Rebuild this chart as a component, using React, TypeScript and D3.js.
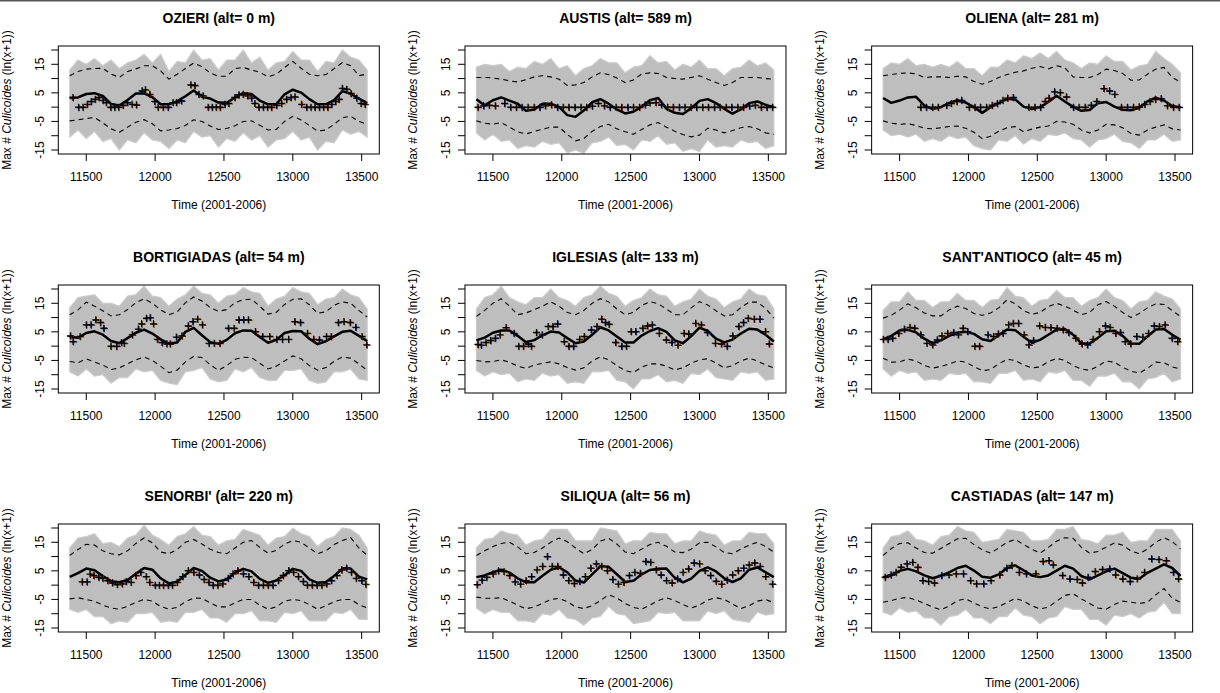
import React from "react";
import * as d3 from "d3";

// ---- time grid (days since 1970) for model curves ----
const TIME = [11380, 11440, 11500, 11560, 11620, 11680, 11740, 11800, 11860, 11920, 11980, 12040, 12100, 12160, 12220, 12280, 12340, 12400, 12460, 12520, 12580, 12640, 12700, 12760, 12820, 12880, 12940, 13000, 13060, 13120, 13180, 13240, 13300, 13360, 13420, 13480, 13540];

const X_TICKS = [11500, 12000, 12500, 13000, 13500];
const Y_TICKS = [-15, -10, -5, 0, 5, 10, 15, 20];
const Y_LABELS = [-15, -5, 5, 15];

// ---- OZIERI ----
const ozieriMean = [3.2,3.4,4.6,4.9,3.9,1.1,0.6,2.5,4.8,4.8,3.5,1.0,1.0,2.0,3.8,5.8,3.6,3.0,1.6,1.5,3.4,4.9,4.6,2.3,1.0,1.0,4.5,6.1,5.1,2.8,1.0,1.0,2.5,5.6,4.7,3.0,1.4];
const ozieriHi = [11.0,12.5,13.3,13.5,13.6,11.6,10.4,12.5,13.4,14.5,14.5,12.7,9.8,11.5,13.5,15.4,14.2,12.0,10.8,10.8,13.5,13.9,13.0,12.2,10.6,11.5,13.9,16.0,13.6,11.5,11.0,11.4,13.5,15.6,14.5,11.0,11.6];
const ozieriLo = [-4.8,-4.4,-4.0,-3.6,-5.5,-7.6,-8.8,-7.0,-5.3,-4.4,-5.8,-8.3,-8.0,-7.5,-6.4,-4.4,-5.0,-6.6,-7.8,-7.5,-6.5,-5.0,-4.8,-6.3,-8.0,-7.8,-5.0,-3.2,-4.5,-6.4,-8.4,-8.0,-6.0,-3.7,-3.2,-5.0,-6.0];
const ozieriBandHi = [13.0,16.5,15.0,17.0,14.5,16.5,13.5,15.5,16.5,18.5,15.5,18.5,12.5,16.0,15.5,20.0,16.5,17.0,13.0,16.5,16.5,20.0,15.5,17.5,13.0,15.5,16.0,19.5,16.5,16.5,12.5,16.0,15.5,20.0,17.5,16.5,13.0];
const ozieriBandLo = [-10.5,-8.0,-11.0,-8.5,-12.0,-11.0,-15.0,-11.5,-12.5,-9.0,-11.5,-12.0,-14.5,-11.5,-12.5,-8.5,-10.5,-10.0,-14.0,-11.0,-12.0,-9.0,-11.5,-10.0,-14.0,-11.5,-11.0,-8.5,-11.5,-10.5,-15.0,-12.0,-12.5,-8.0,-9.5,-8.5,-10.5];
const ozieriObs: [number, number][] = [[11403,3.4],[11444,0],[11476,0],[11507,1.0],[11536,2.0],[11565,2.8],[11592,3.4],[11621,2.4],[11645,1.6],[11677,0],[11706,0],[11735,0],[11767,0.7],[11798,1.6],[11832,1.0],[11864,0.8],[11905,5.7],[11929,6.1],[11961,4.5],[11997,2.0],[12021,0],[12058,0],[12094,0],[12130,1.6],[12155,1.6],[12191,2.2],[12259,7.8],[12288,7.6],[12317,4.5],[12348,4.0],[12385,0],[12414,0],[12443,0],[12472,0],[12506,1.0],[12535,1.3],[12579,3.4],[12608,4.3],[12639,4.5],[12671,4.0],[12700,3.2],[12724,1.3],[12753,0],[12785,0],[12816,0],[12845,0],[12882,0.7],[12918,1.3],[12954,2.8],[12986,3.4],[13015,3.6],[13063,1.0],[13100,0],[13131,0],[13160,0],[13192,0],[13223,0],[13253,0],[13282,1.0],[13311,2.0],[13335,2.8],[13359,6.6],[13391,6.3],[13422,4.8],[13463,3.2],[13495,1.3],[13524,1.0]];

// ---- AUSTIS ----
const austisMean = [2.8,0.6,2.4,3.4,2.3,1.2,-1.3,-0.8,1.2,1.2,0.1,-2.8,-3.4,-1.2,1.7,2.8,1.2,-0.8,-2.2,-1.6,0.2,2.4,3.2,-0.6,-2.0,-2.4,-0.4,2.2,2.8,1.4,-0.6,-2.3,-0.8,1.4,2.0,0.8,0.0];
const austisHi = [10.4,10.4,10.2,9.8,9.2,8.8,9.6,10.6,11.0,10.6,9.8,7.6,7.8,8.6,10.6,12.0,11.4,10.2,8.6,9.5,11.6,12.0,11.8,10.4,10.0,9.8,10.4,11.0,9.8,8.6,7.6,8.6,10.4,10.4,10.4,10.0,9.8];
const austisLo = [-4.8,-5.6,-6.0,-5.4,-7.0,-8.6,-9.4,-8.5,-7.7,-7.0,-7.0,-9.5,-11.8,-11.0,-8.5,-6.8,-6.0,-7.6,-8.6,-9.5,-7.8,-6.2,-5.4,-7.0,-8.4,-9.6,-10.4,-9.8,-7.4,-8.0,-9.0,-8.2,-7.2,-6.8,-7.6,-9.0,-9.5];
const austisBandHi = [14.0,15.0,14.5,15.0,12.5,14.0,13.5,16.0,15.0,17.0,13.5,14.5,11.0,13.5,14.5,17.0,15.5,15.5,12.0,14.0,14.5,18.0,15.5,16.0,13.0,15.0,14.0,16.5,13.5,13.5,11.0,13.5,14.0,16.5,14.5,15.5,13.0];
const austisBandLo = [-9.0,-11.5,-9.5,-12.0,-11.5,-14.5,-13.5,-14.0,-12.0,-13.0,-12.5,-16.0,-15.0,-16.2,-12.5,-12.0,-10.5,-13.5,-13.0,-15.0,-11.5,-12.0,-10.0,-13.0,-12.5,-15.5,-14.5,-15.5,-11.5,-14.0,-13.5,-14.0,-11.5,-12.5,-12.0,-14.5,-13.5];
const austisObs: [number, number][] = [[11391,0],[11432,0.5],[11473,0.7],[11517,0.5],[11585,1.3],[11629,0],[11670,0],[11711,0],[11755,0],[11799,0],[11840,0],[11881,0.5],[11925,0.8],[11969,0],[12010,0],[12051,0],[12095,0],[12139,0],[12180,0],[12221,0.4],[12265,1.3],[12309,0.5],[12350,0],[12394,0],[12435,0],[12479,0],[12520,0],[12564,0],[12605,0.8],[12639,1.5],[12683,1.6],[12724,0.8],[12768,0],[12809,0],[12853,0],[12894,0],[12938,0],[12979,0],[13023,0],[13064,0],[13108,0],[13149,0],[13193,0],[13234,0],[13278,0],[13319,0],[13363,0.4],[13404,0.7],[13448,0],[13489,0],[13530,0]];

// ---- OLIENA ----
const olienaMean = [3.2,1.5,2.3,3.4,3.6,0.5,-0.7,0.0,1.5,2.4,1.6,0.0,-2.0,0.0,1.4,2.9,2.7,0.2,-0.7,0.0,1.8,4.0,2.0,0.1,-1.3,-1.0,1.4,1.8,0.2,-0.9,-1.1,-0.2,2.0,3.3,2.3,0.4,-0.1];
const olienaHi = [11.0,11.4,11.8,12.0,11.6,10.4,10.6,10.6,10.4,10.8,10.6,9.0,8.0,9.0,10.4,11.4,12.2,12.7,13.6,14.2,13.4,14.5,13.8,10.6,10.4,10.4,11.4,13.3,12.8,11.8,9.4,9.5,11.5,13.3,13.9,10.4,8.8];
const olienaLo = [-4.8,-5.6,-6.0,-5.8,-6.4,-7.4,-7.6,-7.2,-6.8,-6.6,-7.4,-8.8,-11.0,-10.2,-8.4,-7.2,-6.8,-8.6,-7.7,-7.0,-6.6,-5.0,-5.2,-6.0,-8.0,-9.0,-8.0,-6.0,-6.2,-7.2,-9.2,-9.8,-8.0,-7.0,-6.2,-7.6,-8.0];
const olienaBandHi = [13.5,15.5,15.0,17.0,14.5,15.0,14.0,15.0,14.0,16.0,13.5,13.5,11.0,14.0,14.0,16.5,15.5,18.0,17.0,19.0,17.0,19.5,16.5,15.5,13.5,15.5,15.0,18.0,16.0,16.0,13.0,14.5,15.0,19.5,17.0,15.0,12.0];
const olienaBandLo = [-8.0,-10.0,-9.5,-10.5,-9.5,-12.0,-11.0,-12.0,-10.0,-11.0,-10.5,-13.5,-14.5,-15.0,-11.5,-12.0,-10.0,-13.0,-11.0,-12.0,-9.5,-10.0,-9.0,-11.0,-11.5,-14.0,-11.5,-11.0,-9.5,-12.0,-12.5,-14.5,-11.5,-11.5,-9.5,-12.0,-11.5];
const olienaObs: [number, number][] = [[11653,0],[11694,0],[11739,0],[11780,0],[11841,0.7],[11875,1.3],[11916,2.0],[11950,2.4],[12005,0],[12046,0],[12087,0],[12131,0],[12172,0.7],[12209,1.3],[12250,2.4],[12284,3.2],[12325,3.4],[12438,0],[12482,0],[12523,0],[12557,2.0],[12584,3.2],[12625,5.4],[12666,5.1],[12711,3.6],[12762,0],[12803,0],[12847,0],[12891,0.7],[12932,2.0],[12983,6.5],[13024,5.7],[13062,4.5],[13110,0],[13154,0],[13198,0],[13239,0.1],[13280,1.0],[13318,2.0],[13358,2.8],[13399,3.0],[13444,0.5],[13488,0],[13529,0]];

// ---- BORTIGIADAS ----
const bortigiadasMean = [3.3,2.9,4.6,5.2,4.0,1.8,1.0,2.8,4.7,5.8,4.4,2.4,0.9,1.3,5.0,6.4,3.8,1.4,0.8,2.2,4.5,5.5,5.4,3.2,1.2,2.2,4.6,5.3,5.2,2.6,0.7,1.7,3.4,5.0,5.4,3.6,1.8];
const bortigiadasHi = [11.0,12.7,15.4,14.0,12.4,10.6,11.0,12.8,15.2,16.6,15.0,12.7,11.0,12.0,15.2,17.2,15.8,13.5,12.2,12.8,15.2,16.3,16.4,14.0,11.2,11.8,14.6,16.4,16.6,14.5,11.5,12.0,14.3,15.5,15.0,12.5,10.2];
const bortigiadasLo = [-5.4,-5.8,-4.4,-5.6,-6.6,-8.2,-7.6,-6.2,-4.8,-3.8,-5.0,-7.0,-9.3,-8.4,-5.5,-3.6,-4.0,-6.5,-8.5,-6.8,-4.6,-3.9,-4.0,-6.0,-8.0,-7.0,-5.2,-3.4,-4.4,-6.8,-8.4,-7.5,-5.3,-3.8,-4.2,-6.2,-8.5];
const bortigiadasBandHi = [13.5,17.0,17.5,18.0,15.0,15.0,14.0,17.5,18.0,21.0,17.5,17.0,14.0,16.5,18.0,21.0,18.5,18.0,15.0,17.5,18.0,20.5,19.0,18.5,14.0,16.5,17.5,20.5,19.0,18.5,14.5,16.5,17.0,20.0,18.0,17.0,13.0];
const bortigiadasBandLo = [-9.0,-10.5,-8.0,-10.5,-10.0,-13.0,-11.0,-11.0,-8.0,-9.0,-8.5,-12.0,-13.0,-13.5,-9.0,-8.5,-7.5,-11.5,-12.5,-12.0,-8.0,-9.0,-7.5,-11.0,-12.0,-12.0,-8.5,-8.5,-8.0,-12.0,-13.0,-12.5,-9.0,-9.0,-8.0,-11.5,-12.0];
const bortigiadasObs: [number, number][] = [[11385,3.6],[11404,1.6],[11455,3.4],[11500,7.5],[11534,7.5],[11569,9.2],[11603,8.3],[11627,6.3],[11679,0],[11720,0],[11755,1.3],[11775,1.0],[11834,4.0],[11878,6.0],[11902,7.8],[11937,9.8],[11964,10.0],[11988,7.8],[12016,2.4],[12050,1.3],[12085,0.8],[12109,0.8],[12154,3.2],[12195,3.6],[12240,7.1],[12274,8.6],[12308,9.5],[12343,7.5],[12391,1.0],[12429,1.0],[12470,1.0],[12532,6.3],[12573,6.3],[12608,9.2],[12642,9.2],[12677,9.2],[12728,5.1],[12780,3.4],[12832,3.4],[12883,2.4],[12924,2.4],[12969,2.4],[13014,8.6],[13055,8.3],[13106,4.5],[13151,2.4],[13192,2.2],[13244,3.4],[13278,3.4],[13330,8.3],[13371,8.6],[13416,8.3],[13457,6.6],[13502,3.4],[13536,0.5]];

// ---- IGLESIAS ----
const iglesiasMean = [2.0,3.0,4.7,5.5,5.5,3.6,1.4,2.1,3.8,5.1,4.8,2.8,1.0,1.6,4.0,6.6,5.5,3.4,1.3,1.3,3.7,5.3,6.3,5.0,2.0,1.0,3.5,6.5,5.3,2.6,1.3,2.3,4.4,6.1,5.8,4.0,1.6];
const iglesiasHi = [10.4,12.5,15.0,16.6,14.0,11.0,11.6,12.8,14.0,15.5,14.0,11.8,11.0,12.5,15.0,16.6,15.5,13.0,11.0,11.8,14.2,15.6,14.8,13.0,11.0,11.0,13.4,15.6,14.4,12.4,10.6,11.0,13.5,15.4,15.4,13.2,9.8];
const iglesiasLo = [-5.0,-5.5,-5.4,-4.8,-5.6,-7.0,-7.8,-6.6,-6.0,-5.5,-6.2,-7.5,-8.4,-7.6,-5.2,-3.7,-4.8,-6.8,-8.6,-9.2,-7.4,-6.2,-6.2,-7.0,-8.3,-7.6,-6.0,-4.8,-4.4,-5.9,-7.6,-6.8,-5.2,-4.2,-5.2,-6.6,-7.6];
const iglesiasBandHi = [13.0,17.0,18.0,21.0,17.0,15.5,14.5,17.0,17.0,20.0,17.0,16.0,14.0,17.0,18.0,21.0,18.5,17.5,14.0,16.0,17.0,20.0,18.0,17.5,14.0,15.5,16.5,20.0,17.5,16.5,13.5,15.5,16.5,20.0,18.0,17.5,13.0];
const iglesiasBandLo = [-8.5,-10.5,-9.0,-10.0,-9.5,-12.5,-11.5,-12.0,-9.5,-10.5,-10.0,-13.0,-12.5,-13.0,-9.0,-9.0,-8.5,-12.0,-12.5,-15.0,-11.5,-11.5,-10.0,-12.5,-12.0,-13.0,-9.5,-10.0,-8.0,-11.0,-11.5,-12.0,-9.0,-9.5,-9.0,-12.0,-11.5];
const iglesiasObs: [number, number][] = [[11391,0.6],[11415,0.4],[11449,1.3],[11483,2.0],[11517,2.8],[11551,4.0],[11595,6.5],[11653,4.5],[11687,0],[11721,0],[11755,0.8],[11779,0],[11816,4.8],[11857,4.0],[11901,6.9],[11935,6.9],[11969,7.8],[12017,1.6],[12051,0],[12085,0],[12129,2.4],[12163,3.4],[12214,5.7],[12255,6.9],[12289,9.5],[12316,8.3],[12343,7.7],[12391,1.3],[12435,0],[12469,0],[12503,5.1],[12537,5.1],[12588,6.3],[12622,7.1],[12656,7.5],[12707,4.5],[12758,2.2],[12799,1.3],[12843,0.4],[12887,4.5],[12921,4.3],[12972,8.0],[13013,7.5],[13057,4.8],[13115,1.0],[13159,0.8],[13200,0],[13241,3.6],[13285,6.9],[13319,8.3],[13353,9.8],[13397,9.5],[13438,9.5],[13479,5.1],[13506,0.8]];

// ---- SANT'ANTIOCO ----
const santantiocoMean = [2.4,3.6,5.5,5.7,4.8,2.6,1.0,2.0,3.6,4.7,5.0,4.3,2.4,1.8,3.8,5.8,5.6,3.3,1.2,2.2,4.0,5.8,6.0,4.0,1.0,0.9,2.9,5.2,5.4,3.6,0.9,0.8,3.4,5.8,6.0,4.0,2.2];
const santantiocoHi = [9.8,10.8,12.6,14.8,13.4,11.6,10.6,10.6,12.7,14.0,13.2,11.4,10.8,11.6,13.4,16.2,14.8,12.5,11.1,11.8,13.8,15.0,14.0,12.6,11.0,11.8,14.5,15.6,14.0,11.8,10.0,11.4,13.4,14.8,14.6,12.4,10.4];
const santantiocoLo = [-4.2,-5.6,-5.5,-4.5,-5.2,-6.8,-7.7,-7.1,-6.2,-5.2,-5.6,-7.2,-8.6,-8.2,-6.2,-4.6,-5.0,-6.6,-7.6,-7.3,-5.4,-4.3,-5.0,-6.8,-8.0,-8.5,-7.0,-5.2,-5.6,-7.4,-8.8,-9.4,-7.8,-5.6,-5.8,-7.3,-8.0];
const santantiocoBandHi = [12.5,15.5,15.5,19.0,16.0,16.0,13.5,15.5,15.5,18.5,16.0,16.0,13.5,16.0,16.5,20.5,17.5,17.0,14.0,16.0,16.5,19.5,17.0,17.0,14.0,16.0,17.0,20.0,17.0,16.0,13.0,15.5,16.0,19.0,17.5,16.5,13.0];
const santantiocoBandLo = [-8.0,-10.5,-8.5,-9.5,-9.0,-12.0,-11.5,-12.0,-9.5,-10.0,-9.5,-12.5,-12.5,-13.0,-9.5,-9.5,-8.5,-12.0,-11.5,-12.5,-9.0,-9.5,-8.5,-12.0,-12.0,-14.0,-10.5,-10.5,-9.5,-12.5,-12.5,-15.0,-11.5,-11.0,-9.5,-12.5,-11.5];
const santantiocoObs: [number, number][] = [[11381,2.4],[11415,2.4],[11449,2.8],[11493,4.5],[11534,6.0],[11575,6.6],[11609,6.3],[11653,4.0],[11698,1.0],[11739,0.5],[11773,2.2],[11807,3.6],[11848,4.5],[11892,4.8],[11926,4.0],[11960,6.3],[11994,5.1],[12046,0],[12080,0],[12141,4.0],[12182,3.4],[12216,4.3],[12250,4.5],[12291,7.5],[12325,8.0],[12363,8.0],[12404,4.0],[12438,0.5],[12472,2.0],[12516,7.1],[12557,6.6],[12598,6.5],[12643,6.3],[12687,5.7],[12728,4.8],[12779,2.8],[12823,0.8],[12864,0.5],[12905,2.4],[12950,5.1],[12994,7.1],[13028,6.6],[13069,4.5],[13103,4.8],[13137,1.6],[13178,0.8],[13222,3.4],[13266,3.2],[13307,4.5],[13348,7.1],[13386,6.9],[13427,7.5],[13478,2.8],[13519,1.6]];

// ---- SENORBI' ----
const senorbiMean = [2.9,4.2,5.8,5.2,3.2,1.4,1.0,1.8,4.0,6.0,5.4,2.4,0.6,1.2,3.6,6.0,5.0,2.6,1.3,2.0,4.4,5.7,4.8,2.2,0.8,1.6,3.5,5.7,5.0,2.0,0.8,1.1,3.2,5.8,5.8,3.0,2.0];
const senorbiHi = [10.4,12.5,14.3,14.0,12.0,11.0,10.6,12.0,14.6,16.5,14.8,11.6,11.0,12.5,15.0,16.0,14.4,12.6,11.4,11.0,13.0,15.0,15.6,13.2,11.2,12.2,14.4,15.6,15.0,13.0,11.0,12.0,14.2,15.6,16.6,13.0,10.4];
const senorbiLo = [-4.8,-4.4,-5.0,-5.6,-7.0,-8.0,-8.4,-7.4,-6.0,-5.0,-5.6,-7.5,-8.4,-7.8,-5.8,-4.5,-4.6,-6.2,-7.6,-7.6,-6.2,-5.0,-5.0,-7.0,-8.4,-7.6,-5.6,-5.0,-5.4,-6.8,-8.4,-7.2,-5.8,-5.0,-5.0,-6.8,-8.0];
const senorbiBandHi = [13.0,16.5,17.0,18.0,14.5,15.0,13.5,16.5,17.5,21.0,17.5,16.0,14.0,17.0,18.0,20.5,17.5,17.0,14.0,15.5,16.0,19.5,18.5,17.5,14.0,16.5,17.0,20.0,18.0,17.0,13.5,16.0,17.0,20.0,19.5,17.5,13.0];
const senorbiBandLo = [-8.5,-9.5,-8.5,-11.0,-11.0,-13.5,-12.5,-13.0,-10.0,-10.0,-9.5,-13.0,-12.5,-13.0,-9.5,-9.5,-8.5,-11.5,-11.5,-13.0,-10.0,-10.0,-9.0,-12.5,-12.5,-13.0,-9.5,-10.0,-9.0,-12.5,-12.5,-12.5,-9.5,-10.0,-8.5,-12.0,-12.0];
const senorbiObs: [number, number][] = [[11470,1.2],[11505,1.2],[11527,3.9],[11555,3.4],[11590,2.8],[11620,2.4],[11655,1.6],[11690,0.8],[11725,0.2],[11760,0.5],[11790,1.3],[11825,1.0],[11860,3.4],[11895,4.5],[11935,3.0],[11960,1.0],[12000,0],[12030,0],[12060,0],[12095,0],[12125,0],[12160,1.0],[12200,3.0],[12240,5.1],[12280,4.5],[12320,3.6],[12355,2.0],[12390,1.0],[12420,0],[12455,0],[12490,0.5],[12530,2.4],[12565,4.0],[12600,5.1],[12640,4.0],[12680,3.0],[12715,1.0],[12750,0],[12785,0],[12820,0],[12855,0],[12895,1.6],[12930,3.4],[12970,5.1],[13005,4.5],[13040,3.0],[13075,1.3],[13105,0],[13140,0],[13175,0],[13210,0],[13245,0.5],[13280,1.6],[13320,3.4],[13355,5.4],[13390,6.0],[13425,4.5],[13460,2.4],[13500,1.6],[13530,0.3]];

// ---- SILIQUA ----
const siliquaMean = [2.8,3.4,4.5,5.4,4.4,2.4,1.0,1.0,3.3,5.4,6.2,4.5,1.6,0.9,3.8,6.6,6.4,3.8,1.1,1.5,3.8,5.3,5.7,5.8,2.6,1.0,2.3,5.0,6.2,4.8,2.4,1.1,2.4,5.4,6.2,4.5,2.8];
const siliquaHi = [10.4,12.0,13.5,14.6,15.0,13.4,11.0,11.4,13.0,15.0,16.5,15.2,13.0,11.0,12.4,15.4,16.4,14.4,11.6,11.0,12.6,14.2,15.0,13.6,11.6,11.4,12.6,14.8,15.0,13.4,11.4,11.0,12.6,14.0,15.0,13.5,11.6];
const siliquaLo = [-4.2,-4.6,-4.6,-4.4,-5.6,-7.0,-8.3,-7.6,-6.4,-5.0,-4.6,-5.8,-7.6,-8.2,-7.2,-5.4,-3.4,-4.5,-6.4,-7.8,-8.4,-7.0,-5.4,-4.4,-5.4,-6.8,-8.0,-7.0,-5.2,-4.4,-5.0,-6.6,-8.2,-7.2,-5.6,-5.0,-6.2];
const siliquaBandHi = [13.0,16.0,16.5,19.0,18.0,17.5,14.0,15.5,16.0,19.5,19.5,19.5,15.5,15.5,15.5,20.0,19.5,19.0,14.5,15.5,15.5,18.5,18.0,18.0,14.5,15.5,15.5,19.0,18.0,17.5,14.0,15.5,15.5,18.5,18.0,18.0,14.5];
const siliquaBandLo = [-8.0,-10.0,-8.5,-9.5,-9.5,-12.5,-12.5,-13.0,-10.0,-10.5,-8.5,-11.5,-12.0,-14.0,-11.5,-11.0,-7.5,-10.0,-10.5,-13.5,-13.0,-12.5,-9.5,-10.0,-9.5,-12.5,-12.5,-12.5,-9.0,-10.0,-9.0,-12.0,-12.5,-13.0,-9.5,-10.5,-10.0];
const siliquaObs: [number, number][] = [[11385,0.2],[11420,1.8],[11455,2.8],[11500,4.0],[11540,5.0],[11580,4.8],[11620,3.4],[11660,1.2],[11700,0.4],[11740,1.6],[11780,3.0],[11820,5.4],[11860,6.6],[11895,10.0],[11930,6.6],[11970,6.6],[12010,3.6],[12050,1.6],[12090,0.6],[12130,1.4],[12170,3.0],[12210,6.0],[12250,7.5],[12290,6.6],[12330,5.1],[12370,2.0],[12410,0.4],[12450,1.0],[12490,3.4],[12530,4.5],[12570,4.2],[12610,8.3],[12645,8.0],[12685,5.4],[12720,3.6],[12760,1.6],[12800,0.8],[12840,2.2],[12880,4.5],[12920,5.7],[12960,7.8],[13000,7.5],[13040,5.1],[13080,3.4],[13120,1.4],[13160,0.4],[13200,1.8],[13240,3.6],[13280,5.1],[13320,6.0],[13360,7.1],[13400,7.8],[13440,6.6],[13480,3.0],[13530,0.4]];

// ---- CASTIADAS ----
const castiadasMean = [2.8,3.4,5.0,5.7,4.8,3.4,2.4,3.3,4.5,6.0,6.8,5.1,2.9,2.6,3.8,5.9,6.9,5.2,3.4,2.8,3.4,5.1,6.8,5.8,3.2,2.0,3.4,4.8,5.8,4.2,2.6,2.2,4.3,5.8,7.3,6.0,3.2];
const castiadasHi = [10.4,12.8,14.6,14.8,13.0,11.4,11.2,12.8,14.6,16.2,16.4,14.2,12.4,11.2,13.0,15.0,16.0,14.2,12.6,11.2,13.2,15.4,16.6,16.4,13.2,11.2,11.8,13.3,14.8,14.0,12.0,11.0,12.6,15.0,16.6,15.2,12.7];
const castiadasLo = [-6.0,-5.4,-4.6,-4.3,-5.2,-6.4,-7.7,-8.6,-7.3,-5.4,-4.8,-6.2,-7.6,-8.3,-7.5,-6.1,-4.6,-5.6,-7.2,-8.3,-7.7,-5.6,-3.6,-3.0,-4.8,-6.4,-8.0,-8.4,-6.8,-5.6,-6.0,-6.4,-6.0,-3.4,-1.2,-4.6,-6.0];
const castiadasBandHi = [13.0,17.0,17.5,19.0,16.0,15.5,14.0,17.0,17.5,20.5,19.0,18.5,15.0,15.5,16.0,19.5,19.0,18.5,15.5,15.5,16.0,19.5,19.5,20.5,16.0,15.5,14.5,17.5,17.5,18.5,15.0,15.5,15.5,19.5,19.5,19.5,15.5];
const castiadasBandLo = [-9.5,-10.5,-8.0,-9.5,-9.0,-11.5,-11.5,-14.0,-11.0,-10.5,-8.5,-11.5,-11.5,-13.5,-11.0,-11.0,-8.0,-10.5,-11.0,-13.5,-11.5,-11.0,-7.5,-8.5,-8.5,-12.0,-12.0,-14.0,-10.5,-11.0,-10.0,-11.5,-9.5,-9.0,-6.0,-10.0,-10.0];
const castiadasObs: [number, number][] = [[11395,2.8],[11437,3.6],[11474,4.5],[11510,6.3],[11553,7.5],[11595,8.0],[11632,6.3],[11668,1.6],[11710,1.3],[11752,0.8],[11805,3.4],[11858,3.6],[11910,4.0],[11963,4.0],[12015,1.6],[12058,0.5],[12110,0.5],[12163,1.6],[12226,3.6],[12278,6.0],[12315,6.9],[12368,4.5],[12420,4.0],[12489,4.0],[12541,8.3],[12584,8.6],[12615,7.1],[12683,3.4],[12736,2.2],[12789,2.0],[12826,0.8],[12868,2.8],[12920,4.8],[12973,5.5],[13025,5.7],[13068,3.6],[13120,2.2],[13173,1.3],[13225,2.2],[13278,4.5],[13330,9.2],[13383,9.0],[13436,8.6],[13488,4.5],[13525,2.2]];

type Site = {
  title: string;
  mean: number[];
  hi: number[];
  lo: number[];
  bandHi: number[];
  bandLo: number[];
  obs: [number, number][];
};

const SITES: Site[] = [
  { title: "OZIERI (alt= 0 m)", mean: ozieriMean, hi: ozieriHi, lo: ozieriLo, bandHi: ozieriBandHi, bandLo: ozieriBandLo, obs: ozieriObs },
  { title: "AUSTIS (alt= 589 m)", mean: austisMean, hi: austisHi, lo: austisLo, bandHi: austisBandHi, bandLo: austisBandLo, obs: austisObs },
  { title: "OLIENA (alt= 281 m)", mean: olienaMean, hi: olienaHi, lo: olienaLo, bandHi: olienaBandHi, bandLo: olienaBandLo, obs: olienaObs },
  { title: "BORTIGIADAS (alt= 54 m)", mean: bortigiadasMean, hi: bortigiadasHi, lo: bortigiadasLo, bandHi: bortigiadasBandHi, bandLo: bortigiadasBandLo, obs: bortigiadasObs },
  { title: "IGLESIAS (alt= 133 m)", mean: iglesiasMean, hi: iglesiasHi, lo: iglesiasLo, bandHi: iglesiasBandHi, bandLo: iglesiasBandLo, obs: iglesiasObs },
  { title: "SANT'ANTIOCO (alt= 45 m)", mean: santantiocoMean, hi: santantiocoHi, lo: santantiocoLo, bandHi: santantiocoBandHi, bandLo: santantiocoBandLo, obs: santantiocoObs },
  { title: "SENORBI' (alt= 220 m)", mean: senorbiMean, hi: senorbiHi, lo: senorbiLo, bandHi: senorbiBandHi, bandLo: senorbiBandLo, obs: senorbiObs },
  { title: "SILIQUA (alt= 56 m)", mean: siliquaMean, hi: siliquaHi, lo: siliquaLo, bandHi: siliquaBandHi, bandLo: siliquaBandLo, obs: siliquaObs },
  { title: "CASTIADAS (alt= 147 m)", mean: castiadasMean, hi: castiadasHi, lo: castiadasLo, bandHi: castiadasBandHi, bandLo: castiadasBandLo, obs: castiadasObs },
];

const W = 1220;
const H = 693;
const COL_W = 406.67;
const ROW_H = 239;
const BOX_L = 58.3;
const BOX_T = 46;
const BOX_W = 321;
const BOX_H = 108;
const FONT = "'Liberation Sans', Arial, Helvetica, sans-serif";
const OBS_COLORS = ["#7a1010", "#1a2a70", "#6b4a00"];

function Panel({ site, idx }: { site: Site; idx: number }) {
  const col = idx % 3;
  const row = Math.floor(idx / 3);
  const ox = BOX_L + col * COL_W;
  const oy = BOX_T + row * ROW_H;

  const x = d3.scaleLinear().domain([11297, 13628]).range([0, BOX_W]);
  const y = d3.scaleLinear().domain([-16.4, 21.4]).range([BOX_H, 0]);

  const line = d3
    .line<number>()
    .x((_, i) => x(TIME[i]))
    .y((d) => y(d));
  const area = d3
    .area<number>()
    .x((_, i) => x(TIME[i]))
    .y0((_, i) => y(site.bandLo[i]))
    .y1((d) => y(d));

  const clipId = `clip-${idx}`;
  const arm = 3.5;

  return (
    <g transform={`translate(${ox},${oy})`}>
      <defs>
        <clipPath id={clipId}>
          <rect x={0} y={0} width={BOX_W} height={BOX_H} />
        </clipPath>
      </defs>
      <g clipPath={`url(#${clipId})`}>
        <path d={area(site.bandHi) || ""} fill="#bebebe" stroke="#cdcdcd" strokeWidth={1.2} strokeLinejoin="miter" />
        <path d={line(site.hi) || ""} fill="none" stroke="#000" strokeWidth={1.1} strokeDasharray="5,4" />
        <path d={line(site.lo) || ""} fill="none" stroke="#000" strokeWidth={1.1} strokeDasharray="5,4" />
        <path d={line(site.mean) || ""} fill="none" stroke="#000" strokeWidth={2.5} strokeLinejoin="round" />
        {site.obs.map(([t, v], i) => {
          const px = x(t);
          const py = y(v);
          const c = OBS_COLORS[i % 3];
          return (
            <g key={i}>
              <path
                d={`M${px - arm + 0.6},${py + 0.5}H${px + arm + 0.6}M${px + 0.6},${py - arm + 0.5}V${py + arm + 0.5}`}
                stroke={c}
                strokeWidth={1.1}
              />
              <path
                d={`M${px - arm},${py}H${px + arm}M${px},${py - arm}V${py + arm}`}
                stroke="#000"
                strokeWidth={1.15}
              />
            </g>
          );
        })}
      </g>
      <rect x={0} y={0} width={BOX_W} height={BOX_H} fill="none" stroke="#000" strokeWidth={1} />
      {X_TICKS.map((t) => (
        <g key={t}>
          <line x1={x(t)} x2={x(t)} y1={BOX_H} y2={BOX_H + 7} stroke="#000" strokeWidth={1} />
          <text x={x(t)} y={BOX_H + 27} fontSize={12} fontFamily={FONT} textAnchor="middle" fill="#000">
            {t}
          </text>
        </g>
      ))}
      {Y_TICKS.map((v) => (
        <line key={v} x1={-7} x2={0} y1={y(v)} y2={y(v)} stroke="#000" strokeWidth={1} />
      ))}
      {Y_LABELS.map((v) => (
        <text
          key={v}
          transform={`translate(${-14.8},${y(v)}) rotate(-90)`}
          fontSize={12}
          fontFamily={FONT}
          textAnchor="middle"
          fill="#000"
        >
          {v}
        </text>
      ))}
      <text x={BOX_W / 2} y={-23} fontSize={14} fontWeight="bold" fontFamily={FONT} textAnchor="middle" fill="#000">
        {site.title}
      </text>
      <text x={BOX_W / 2} y={BOX_H + 55} fontSize={12} fontFamily={FONT} textAnchor="middle" fill="#000">
        Time (2001-2006)
      </text>
      <text
        transform={`translate(${-47.8},${BOX_H / 2}) rotate(-90)`}
        fontSize={12}
        fontFamily={FONT}
        textAnchor="middle"
        fill="#000"
      >
        Max # <tspan fontStyle="italic">Culicoides</tspan> (ln(x+1))
      </text>
    </g>
  );
}

export default function App() {
  return (
    <svg
      width={W}
      height={H}
      viewBox={`0 0 ${W} ${H}`}
      style={{ position: "absolute", left: 0, top: 0, background: "#fff" }}
    >
      <rect x={0} y={0} width={W} height={H} fill="#fff" />
      <line x1={0} x2={W} y1={0.75} y2={0.75} stroke="#555" strokeWidth={1.5} />
      {SITES.map((s, i) => (
        <Panel key={s.title} site={s} idx={i} />
      ))}
    </svg>
  );
}
